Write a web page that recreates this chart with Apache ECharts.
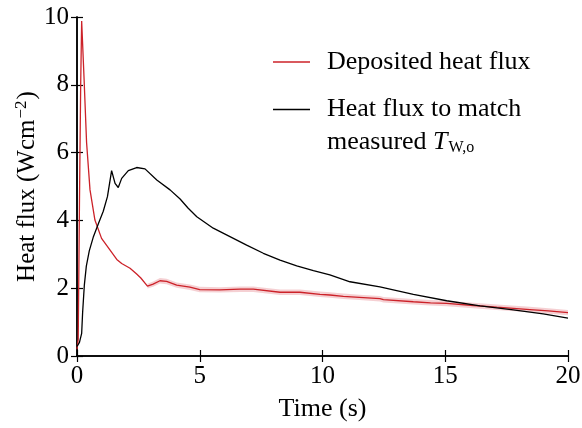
<!DOCTYPE html>
<html><head><meta charset="utf-8">
<script src="https://cdn.jsdelivr.net/npm/echarts@6/dist/echarts.min.js"></script>
<style>html,body{margin:0;padding:0;background:#fff}#c{width:582px;height:428px}</style>
</head><body><div id="c"></div>
<script>
// Deposited heat flux (red)
const redT = [0, 0.05, 0.1, 0.15, 0.19, 0.29, 0.39, 0.53, 0.73, 1.0, 1.34, 1.62, 1.82, 2.16, 2.43, 2.6, 2.87, 3.1, 3.38, 3.65, 4.06, 4.6, 5.0, 5.82, 6.64, 7.18, 8.27, 9.08, 9.9, 10.3, 10.85, 11.5, 12.34, 12.48, 13.7, 14.4, 15.06, 16.14, 17.1, 18.45, 19.2, 20];
const redV = [0.2, 0.5, 4.5, 8.0, 9.88, 8.14, 6.3, 4.9, 4.01, 3.47, 3.13, 2.85, 2.73, 2.59, 2.42, 2.3, 2.06, 2.12, 2.22, 2.2, 2.09, 2.03, 1.96, 1.95, 1.97, 1.97, 1.88, 1.88, 1.82, 1.80, 1.76, 1.73, 1.69, 1.66, 1.6, 1.57, 1.55, 1.49, 1.44, 1.37, 1.33, 1.28];
// uncertainty band half-width around the red curve
const redErr = [0, 0, 0, 0, 0, 0, 0, 0, 0, 0, 0, 0, 0, 0, 0, 0, 0.07, 0.08, 0.08, 0.08, 0.08, 0.08, 0.08, 0.08, 0.08, 0.08, 0.08, 0.08, 0.08, 0.08, 0.08, 0.08, 0.08, 0.08, 0.08, 0.08, 0.08, 0.08, 0.08, 0.08, 0.08, 0.08];
// Heat flux to match measured T_W,o (black)
const blackT = [0, 0.03, 0.1, 0.19, 0.23, 0.3, 0.38, 0.5, 0.66, 0.87, 1.07, 1.24, 1.41, 1.55, 1.68, 1.82, 1.9, 2.09, 2.43, 2.77, 3.25, 3.79, 4.2, 4.53, 4.88, 5.55, 6.23, 6.91, 7.59, 8.27, 8.95, 9.63, 10.3, 11.12, 12.34, 13.7, 15.06, 16.42, 17.77, 18.99, 20];
const blackV = [0.28, 0.32, 0.4, 0.67, 1.3, 2.1, 2.65, 3.1, 3.5, 3.9, 4.27, 4.7, 5.47, 5.09, 4.97, 5.24, 5.24, 5.47, 5.56, 5.52, 5.19, 4.9, 4.63, 4.36, 4.11, 3.77, 3.52, 3.27, 3.03, 2.83, 2.66, 2.52, 2.39, 2.19, 2.04, 1.82, 1.63, 1.48, 1.36, 1.24, 1.12];
const xTicks = [0, 5, 10, 15, 20];
const yTicks = [0, 2, 4, 6, 8, 10];

const FONT = '"Liberation Serif", "Times New Roman", serif';
const RED = '#cc2229';
const redName = 'Deposited heat flux';
const blackName = 'Heat flux to match measured T_W,o';

const redData = redT.map((t, i) => [t, redV[i]]);
const blackData = blackT.map((t, i) => [t, blackV[i]]);
const bandData = redT.map((t, i) => [t, redV[i] - redErr[i], redV[i] + redErr[i]]);

const axisLine = { show: true, lineStyle: { color: '#000', width: 1.5 } };
const tick = { show: true, inside: true, length: 6, lineStyle: { color: '#000', width: 1.2 } };

const chart = echarts.init(document.getElementById('c'));
chart.setOption({
  animation: false,
  backgroundColor: '#fff',
  grid: { left: 77, right: 14, top: 17, bottom: 72, outerBoundsMode: 'none', containLabel: false },
  xAxis: [{
    type: 'value', min: 0, max: 20, interval: 5,
    axisLine, axisTick: tick, splitLine: { show: false },
    axisLabel: { color: '#000', fontFamily: FONT, fontSize: 25, margin: 8,
      formatter: v => xTicks.includes(v) ? String(v) : '' },
    name: 'Time (s)', nameLocation: 'middle', nameGap: 40,
    nameTextStyle: { color: '#000', fontFamily: FONT, fontSize: 26 }
  }, {
    type: 'value', min: 0, max: 20, interval: 5, position: 'top',
    axisLine, axisTick: tick, axisLabel: { show: false }, splitLine: { show: false }
  }],
  yAxis: [{
    type: 'value', min: 0, max: 10, interval: 2,
    axisLine, axisTick: tick, splitLine: { show: false },
    axisLabel: { color: '#000', fontFamily: FONT, fontSize: 25, margin: 8,
      formatter: v => yTicks.includes(v) ? String(v) : '' },
    name: 'Heat flux (Wcm{sup|\u22122})', nameLocation: 'middle', nameGap: 35, nameMoveOverlap: false,
    nameTextStyle: { color: '#000', fontFamily: FONT, fontSize: 25,
      rich: { sup: { fontFamily: FONT, fontSize: 17, color: '#000', padding: [0, 1, 12, 1] } } }
  }, {
    type: 'value', min: 0, max: 10, interval: 2, position: 'right',
    axisLine, axisTick: tick, axisLabel: { show: false }, splitLine: { show: false }
  }],
  legend: [{
    left: 273, top: 47, padding: 0, orient: 'vertical',
    itemWidth: 37, itemHeight: 1.5, itemGap: 0,
    data: [{ name: redName, icon: 'rect', itemStyle: { color: RED } }],
    textStyle: { color: '#000', fontFamily: FONT, fontSize: 26, lineHeight: 30, padding: [0, 0, 0, 12] }
  }, {
    left: 273, top: 60, padding: 0, orient: 'vertical',
    itemWidth: 37, itemHeight: 1.5, itemGap: 0,
    data: [{ name: blackName, icon: 'rect', itemStyle: { color: '#000' } }],
    formatter: () => '{a| }\n{a|Heat flux to match}\n{a|measured }{i|T}{s|W,o}',
    textStyle: { color: '#000', fontFamily: FONT, fontSize: 26, lineHeight: 33, padding: [0, 0, 0, 12],
      rich: {
        a: { fontFamily: FONT, fontSize: 26, color: '#000', lineHeight: 33 },
        i: { fontFamily: FONT, fontSize: 26, color: '#000', fontStyle: 'italic', lineHeight: 33 },
        s: { fontFamily: FONT, fontSize: 16, color: '#000', padding: [11, 0, 0, 1], lineHeight: 33 }
      } }
  }],
  series: [{
    name: 'band', type: 'custom', data: bandData, silent: true, z: 1,
    encode: { x: 0, y: [1, 2] },
    renderItem: (params, api) => {
      if (params.dataIndex !== 0) return null;
      const upper = [], lower = [];
      for (let i = 0; i < bandData.length; i++) {
        if (redErr[i] <= 0) continue;
        upper.push(api.coord([bandData[i][0], bandData[i][2]]));
        lower.unshift(api.coord([bandData[i][0], bandData[i][1]]));
      }
      return { type: 'polygon', shape: { points: upper.concat(lower) },
        style: { fill: 'rgba(222,100,110,0.3)' } };
    }
  }, {
    name: redName, type: 'line', data: redData, symbol: 'none',
    lineStyle: { color: RED, width: 1.3 }, itemStyle: { color: RED }, z: 2
  }, {
    name: blackName, type: 'line', data: blackData, symbol: 'none',
    lineStyle: { color: '#000', width: 1.3 }, itemStyle: { color: '#000' }, z: 3
  }]
});
</script></body></html>
